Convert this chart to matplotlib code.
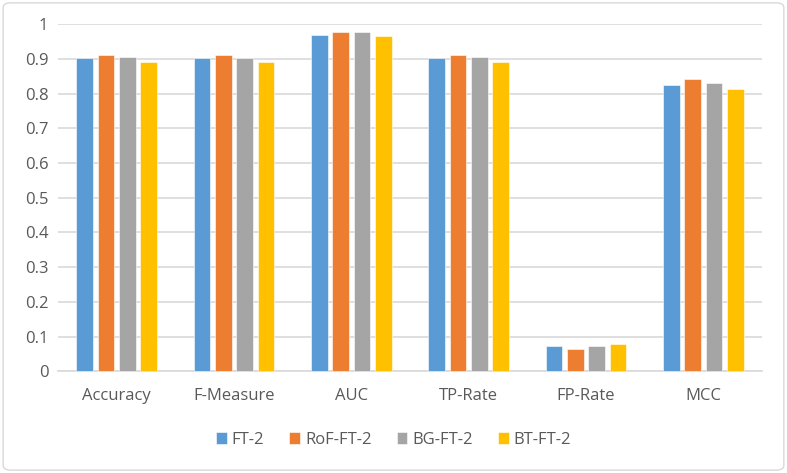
import numpy as np
import matplotlib.pyplot as plt
from matplotlib.patches import FancyBboxPatch

categories = ['Accuracy', 'F-Measure', 'AUC', 'TP-Rate', 'FP-Rate', 'MCC']
series_names = ['FT-2', 'RoF-FT-2', 'BG-FT-2', 'BT-FT-2']
ft2 = [0.902, 0.903, 0.970, 0.902, 0.073, 0.826]
rof_ft2 = [0.910, 0.910, 0.978, 0.910, 0.063, 0.842]
bg_ft2 = [0.904, 0.903, 0.978, 0.904, 0.072, 0.829]
bt_ft2 = [0.892, 0.892, 0.967, 0.892, 0.078, 0.812]
colors = ['#5B9BD5', '#ED7D31', '#A5A5A5', '#FFC000']

plt.rcParams['font.family'] = ['Open Sans', 'DejaVu Sans']

fig = plt.figure(figsize=(7.87, 4.73), dpi=100)
ax = fig.add_axes([0.0737, 0.215, 0.8945, 0.734])

x = np.arange(len(categories))
step = 0.182
width = 0.142
for i, (vals, name) in enumerate(zip([ft2, rof_ft2, bg_ft2, bt_ft2], series_names)):
    ax.bar(x + (i - 1.5) * step, vals, width, color=colors[i], label=name,
           edgecolor='white', linewidth=0.4, zorder=3)

ax.set_xlim(-0.5, len(categories) - 0.5)
ax.set_ylim(0, 1)
ax.set_yticks(np.arange(0, 1.01, 0.1))
ax.set_yticklabels(['0', '0.1', '0.2', '0.3', '0.4', '0.5', '0.6', '0.7', '0.8', '0.9', '1'])
ax.set_xticks(x)
ax.set_xticklabels(categories)
ax.yaxis.grid(True, color='#D9D9D9', linewidth=1.2, zorder=0)
ax.tick_params(axis='both', length=0, labelsize=12, colors='#595959', pad=7)
ax.tick_params(axis='x', pad=12)
for s in ['top', 'right', 'left']:
    ax.spines[s].set_visible(False)
ax.spines['bottom'].set_color('#D9D9D9')
ax.spines['bottom'].set_linewidth(1.2)

leg = fig.legend(loc='center', bbox_to_anchor=(0.5, 0.07), ncol=4, frameon=False,
                 fontsize=12, handlelength=0.65, handleheight=0.65, handletextpad=0.3,
                 columnspacing=1.5)
for t in leg.get_texts():
    t.set_color('#595959')

border = FancyBboxPatch((0.004, 0.006), 0.992, 0.988, boxstyle='round,pad=0,rounding_size=0.01',
                        transform=fig.transFigure, fill=False, edgecolor='#D9D9D9', linewidth=1)
fig.patches.append(border)

fig.savefig('out.png', dpi=100)
